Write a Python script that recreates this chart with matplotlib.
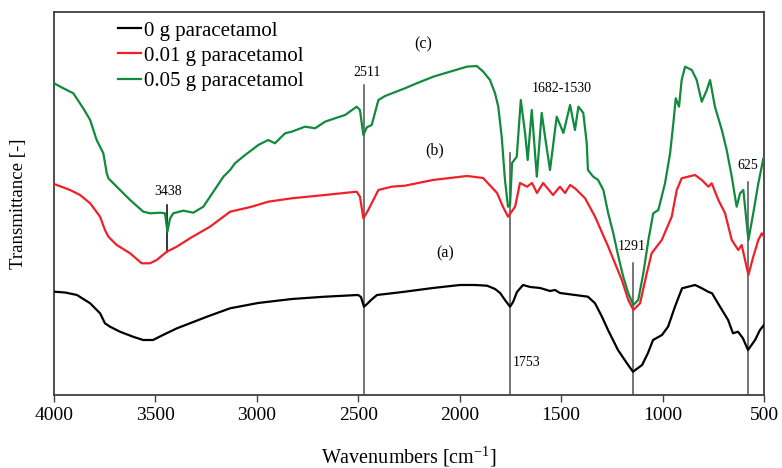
import matplotlib

matplotlib.use("Agg")
import matplotlib.pyplot as plt

plt.rcParams["font.family"] = ["Liberation Serif", "DejaVu Serif"]
plt.rcParams["mathtext.fontset"] = "custom"
plt.rcParams["mathtext.rm"] = "Liberation Serif"

# FTIR spectra, transmittance in arbitrary offset units
wn_0 = [4000, 3946, 3887, 3822, 3773, 3749, 3724, 3675, 3611, 3561, 3512, 3463,
        3394, 3330, 3246, 3132, 2994, 2827, 2664, 2501, 2487, 2472, 2457, 2437,
        2408, 2344, 2270, 2132, 1999, 1925, 1865, 1826, 1801, 1777, 1752, 1737,
        1718, 1688, 1653, 1604, 1555, 1530, 1506, 1432, 1368, 1333, 1299, 1269,
        1220, 1170, 1146, 1101, 1072, 1047, 1003, 973, 939, 904, 840, 806, 776,
        756, 727, 677, 653, 628, 604, 579, 544, 520, 500]
t_0 = [103.3, 102.5, 100, 91.7, 81.7, 71.7, 68.3, 63.3, 58.3, 55, 55, 60,
       66.7, 71.7, 78.3, 86.7, 92, 96, 98.3, 100, 98, 88.3, 91, 95,
       100, 101.5, 103.3, 107, 110, 110, 109.3, 106, 102, 95, 88.3, 93,
       103, 110, 108, 107, 104, 105, 102, 100, 98.3, 91.7, 78.3, 65,
       45, 30, 23.3, 30, 42, 55, 60, 68.3, 88.3, 106.7, 110, 106.7, 103.3,
       101.7, 91.7, 75, 61.7, 63.3, 56.7, 45, 55, 65, 70]

wn_001 = [4000, 3921, 3872, 3822, 3773, 3749, 3732, 3691, 3625, 3568, 3527, 3494,
          3444, 3395, 3330, 3231, 3132, 3058, 3025, 2944, 2828, 2664, 2508, 2492,
          2475, 2451, 2426, 2401, 2335, 2270, 2132, 1964, 1885, 1816, 1787, 1762,
          1727, 1703, 1668, 1644, 1619, 1589, 1540, 1506, 1481, 1456, 1432, 1382,
          1333, 1268, 1201, 1169, 1144, 1111, 1078, 1054, 1004, 955, 930, 906,
          840, 807, 774, 758, 725, 692, 659, 627, 610, 577, 553, 528, 511, 500]
t_001 = [211, 205, 200, 191.7, 178.3, 165, 158.3, 150, 141.7, 131.7, 131.7, 135,
         143.3, 148.3, 156.7, 168.3, 183.3, 186.7, 188.3, 193.3, 196.7, 200, 203.3, 198.3,
         176.7, 185, 195, 205, 208.3, 209.3, 215, 219, 217, 202, 188.3, 178.3,
         188.3, 212, 208.3, 212, 202, 212, 200, 208.3, 202, 210, 206.7, 196.7,
         178.3, 148.3, 115, 95, 85, 91.7, 121.7, 141.7, 155, 178.3, 205, 216.7,
         220, 215, 208.3, 211.7, 195, 181.7, 155, 145, 150, 120, 138.3, 155, 161.7, 158.3]

wn_005 = [4000, 3954, 3905, 3856, 3822, 3790, 3757, 3740, 3732, 3691, 3625, 3560,
          3527, 3477, 3453, 3441, 3428, 3412, 3363, 3313, 3264, 3231, 3198, 3165,
          3132, 3108, 3058, 3025, 2993, 2944, 2911, 2861, 2828, 2763, 2713, 2664,
          2615, 2565, 2508, 2492, 2475, 2458, 2434, 2401, 2368, 2270, 2212, 2130,
          2048, 1965, 1916, 1884, 1851, 1826, 1810, 1793, 1777, 1762, 1752, 1742,
          1719, 1699, 1678, 1665, 1645, 1620, 1596, 1575, 1555, 1522, 1489, 1456,
          1432, 1415, 1391, 1374, 1368, 1342, 1318, 1292, 1268, 1243, 1218, 1194,
          1169, 1144, 1120, 1095, 1070, 1046, 1021, 988, 963, 947, 935, 919, 906,
          889, 856, 832, 807, 782, 766, 742, 708, 684, 659, 635, 618, 602, 577,
          553, 528, 503, 500]
t_005 = [311.7, 306.7, 301.7, 286.7, 275, 255, 241.7, 221.7, 216.7, 208.3, 195, 183.3,
         181.7, 182.3, 181.7, 163.3, 176.7, 181.7, 184.3, 182.3, 188.3, 198.3, 208.3, 218.3,
         225, 231.7, 240, 245, 250, 255, 251.7, 261.7, 263.3, 268.3, 266.7, 273.3,
         276.7, 280, 288.3, 285, 260, 267.7, 270, 295, 299, 306.7, 311.7, 318.3,
         323.3, 328.3, 329, 323.3, 315, 301.7, 288.3, 258, 215, 188.3, 190, 232,
         238.3, 295, 262, 235, 285, 218.3, 282, 252, 225, 278.3, 262, 290,
         265, 288.3, 282, 252, 225, 218.3, 215, 205, 181.7, 161.7, 138.3, 118.3,
         101.7, 90, 95, 121.7, 155, 181.7, 185, 211.7, 241.7, 271.7, 296.7, 288.3, 315,
         328.3, 325, 315, 293.3, 305, 315, 288.3, 265, 245, 218.3, 188.3, 201.7, 205, 155,
         181.7, 211.7, 236.7, 238]

series_labels = ["0 g paracetamol", "0.01 g paracetamol", "0.05 g paracetamol"]

# marked bands: line position, line extent, label text
peak_pos = [3443, 2472, 1752, 1146, 577]
peak_top = [190, 310, 241.7, 132.3, 213.3]
peak_bottom = [143.3, 0, 0, 0, 0]
peak_text = ["3438", "2511", "1753", "1291", "625"]


def plot_spectra() -> None:
    """Draw the three stacked FTIR spectra with band markers."""
    fig, ax = plt.subplots(figsize=(7.82, 4.68), dpi=100)
    fig.subplots_adjust(left=0.0691, right=0.977, top=0.9744, bottom=0.156)

    colors = ["#000000", "#f0202a", "#128a3e"]
    for wn, t, lab, c in zip([wn_0, wn_001, wn_005], [t_0, t_001, t_005],
                             series_labels, colors):
        ax.plot(wn, t, color=c, lw=1.6, label=lab, zorder=3)

    # vertical band markers
    for i, (x, top, bot) in enumerate(zip(peak_pos, peak_top, peak_bottom)):
        c = "#000000" if i == 0 else "#505050"
        ax.plot([x, x], [bot, top], color=c, lw=1.1, zorder=2)

    # band labels
    ax.text(3438, 203.3, peak_text[0], ha="center", va="center", fontsize=10)
    ax.text(2459, 322.3, peak_text[1], ha="center", va="center", fontsize=10)
    ax.text(1737, 32, peak_text[2], ha="left", va="center", fontsize=10)
    ax.text(1152, 148.3, peak_text[3], ha="center", va="center", fontsize=10)
    ax.text(580, 229, peak_text[4], ha="center", va="center", fontsize=10)
    ax.text(1496, 306.7, "1682-1530", ha="center", va="center", fontsize=10)

    ax.text(2181, 351, "(c)", ha="center", va="center", fontsize=11.5)
    ax.text(2122, 245, "(b)", ha="center", va="center", fontsize=11.5)
    ax.text(2073, 142, "(a)", ha="center", va="center", fontsize=11.5)

    ax.set_xlim(4000, 500)
    ax.set_ylim(0, 383)
    ax.set_xticks([4000, 3500, 3000, 2500, 2000, 1500, 1000, 500])
    ax.set_yticks([])
    ax.tick_params(axis="x", direction="out", length=5, width=1,
                   color="#404040", labelsize=14, pad=4)
    for s in ax.spines.values():
        s.set_color("#404040")
        s.set_linewidth(1.3)

    ax.set_xlabel("Wavenumbers [cm$^{-1}$]", fontsize=14.5)
    ax.xaxis.set_label_coords(0.5, -0.128)
    ax.set_ylabel("Transmittance [-]", fontsize=13.5)
    ax.yaxis.set_label_coords(-0.038, 0.5)

    ax.legend(loc="upper left", bbox_to_anchor=(118 / 782, 1 - 21 / 468),
              bbox_transform=fig.transFigure, frameon=False,
              prop={"family": "Liberation Serif", "size": 15},
              handlelength=1.1, handletextpad=0.15, labelspacing=0.27,
              borderpad=0, borderaxespad=0)

    fig.savefig("out.png", dpi=100)


def main():
    plot_spectra()


if __name__ == "__main__":
    main()
